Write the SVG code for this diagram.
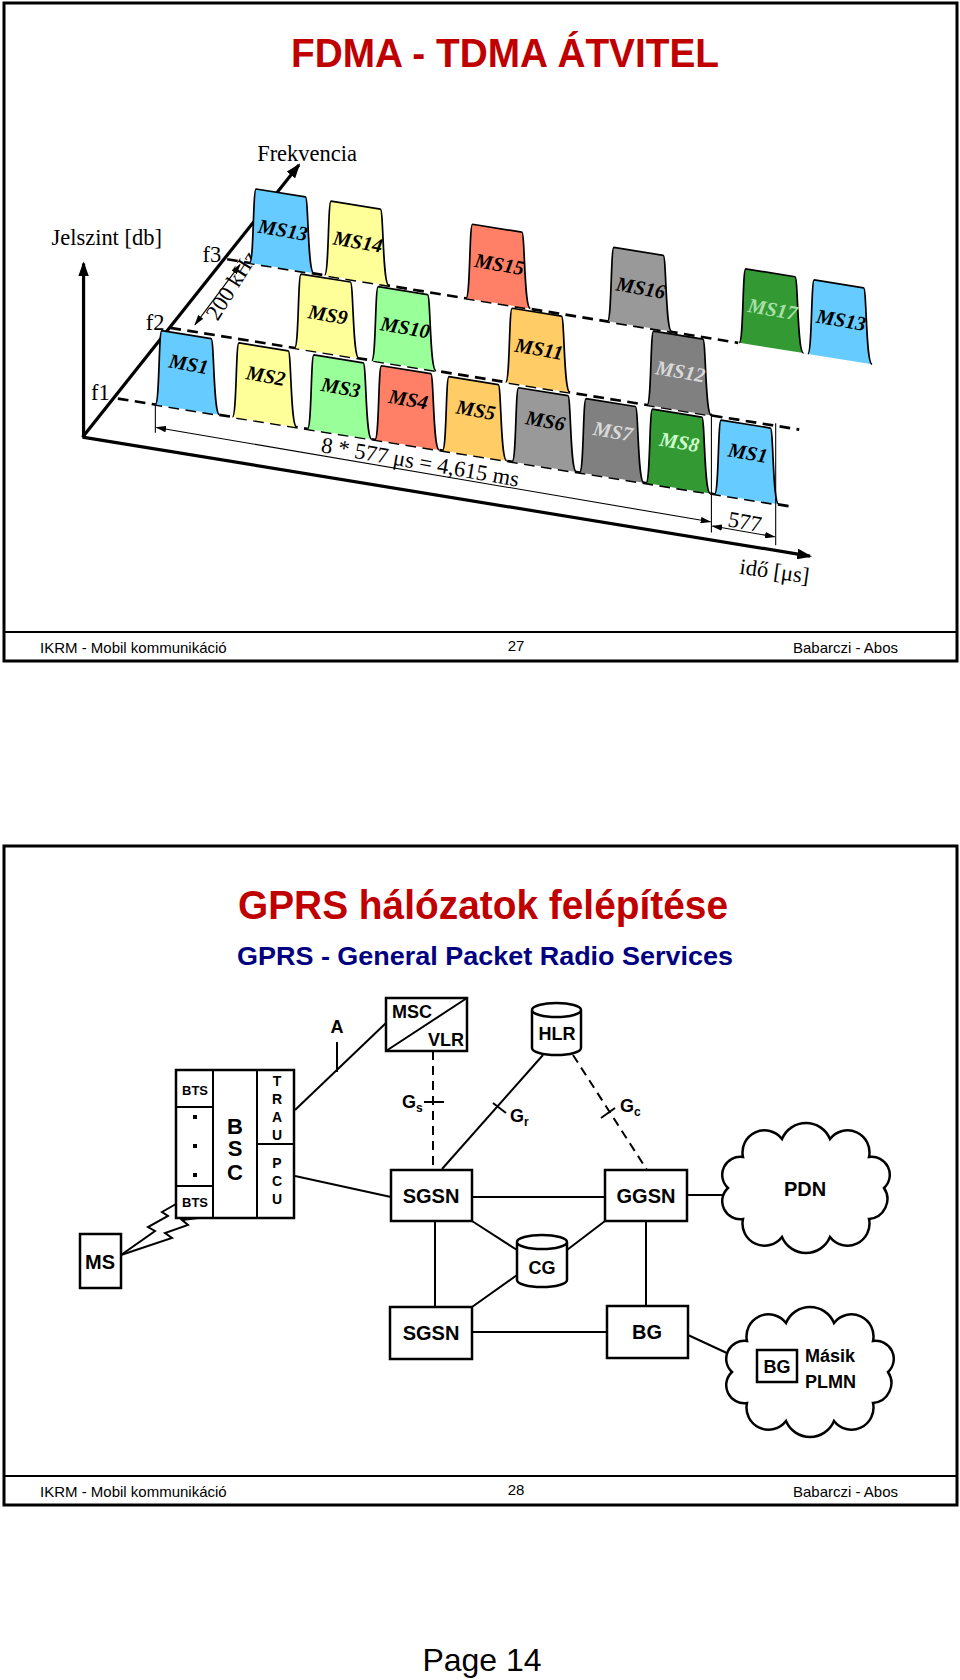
<svg xmlns="http://www.w3.org/2000/svg" xmlns:xlink="http://www.w3.org/1999/xlink" width="960" height="1680" viewBox="0 0 960 1680">
<style>
.frame{fill:none;stroke:#000;stroke-width:3}
.foot{font-family:"Liberation Sans",Arial,sans-serif;font-size:15px;fill:#000}
.ser{font-family:"Liberation Serif","Times New Roman",serif;font-size:21px;fill:#000}
.lab{font-family:"Liberation Serif","Times New Roman",serif;font-size:19px;font-weight:bold;font-style:italic;text-anchor:middle}
.pulse{stroke:#000;stroke-width:1.6}
.dash{stroke:#000;stroke-width:2.5;stroke-dasharray:10,6;fill:none}
.ax{stroke:#000;stroke-width:3;fill:none}
.thin{stroke:#000;stroke-width:1;fill:none}
.b{font-family:"Liberation Sans",Arial,sans-serif;font-weight:bold;fill:#000}
.box{fill:#fff;stroke:#000;stroke-width:2.5}
.ln{stroke:#000;stroke-width:2;fill:none}
.dl{stroke:#000;stroke-width:2;fill:none;stroke-dasharray:9,6}
</style>
<defs>
<path id="p" d="M0,0 c4,0 3,-69 6,-69 l46,7.4 c3,0 2,71.2 8,71.2"/>
<marker id="ah" markerWidth="14" markerHeight="10" refX="12" refY="5" orient="auto" markerUnits="userSpaceOnUse"><path d="M0,0 L14,5 L0,10 Z" fill="#000"/></marker>
<marker id="sa" markerWidth="10" markerHeight="6" refX="9" refY="3" orient="auto-start-reverse" markerUnits="userSpaceOnUse"><path d="M0,0 L10,3 L0,6 Z" fill="#000"/></marker>
<path id="cloud" d="M884,1188 A20,20 0 0 1 869,1219 A22,22 0 0 1 830,1237 A26,26 0 0 1 782,1237 A22,22 0 0 1 743,1219 A18,18 0 0 1 728,1188 A18,18 0 0 1 743,1157 A22,22 0 0 1 782,1139 A26,26 0 0 1 830,1139 A22,22 0 0 1 869,1157 A18,18 0 0 1 884,1188 Z"/>
</defs>
<rect width="960" height="1680" fill="#fff"/>

<g id="slide1">
<rect class="frame" x="4" y="3" width="953" height="658"/>
<line x1="4" y1="632" x2="957" y2="632" stroke="#000" stroke-width="2"/>
<text x="505" y="67" text-anchor="middle" font-family="Liberation Sans,Arial,sans-serif" font-weight="bold" font-size="40" fill="#c00000" textLength="428" lengthAdjust="spacingAndGlyphs">FDMA - TDMA ÁTVITEL</text>
<text class="foot" x="40" y="653">IKRM - Mobil kommunikáció</text>
<text class="foot" x="516" y="651" text-anchor="middle">27</text>
<text class="foot" x="898" y="653" text-anchor="end">Babarczi - Abos</text>

<g id="chart" transform="scale(1.0714)">
<line class="ax" x1="78" y1="408" x2="78" y2="246" marker-end="url(#ah)"/>
<line class="ax" x1="77" y1="408" x2="279" y2="154" marker-end="url(#ah)"/>
<line class="ax" x1="77" y1="408" x2="756" y2="519" marker-end="url(#ah)"/>
<text class="ser" x="240" y="150">Frekvencia</text>
<text class="ser" x="48" y="229">Jelszint [db]</text>
<text class="ser" x="85" y="373">f1</text>
<text class="ser" x="136" y="308">f2</text>
<text class="ser" x="189" y="245">f3</text>
<line class="dash" x1="212" y1="242" x2="689" y2="320"/>
<line class="dash" x1="159" y1="306" x2="746" y2="401"/>
<line class="dash" x1="110" y1="372" x2="740" y2="473"/>
<line class="thin" x1="224" y1="247" x2="182" y2="303" marker-start="url(#sa)" marker-end="url(#sa)"/>
<text class="ser" font-size="17" text-anchor="middle" transform="translate(222,270) rotate(-58)">200 kHz</text>

<g id="row3">
<use href="#p" x="233" y="245.4" class="pulse" fill="#66ccff"/>
<use href="#p" x="303" y="256.8" class="pulse" fill="#ffff99"/>
<use href="#p" x="435" y="278.3" class="pulse" fill="#ff8066"/>
<use href="#p" x="567" y="299.9" class="pulse" fill="#999999"/>
<use href="#p" x="690" y="319.9" class="pulse" fill="#339933"/>
<use href="#p" x="754" y="330.3" class="pulse" fill="#66ccff"/>
<text class="lab" transform="translate(263,221) rotate(10)">MS13</text>
<text class="lab" transform="translate(333,232) rotate(10)">MS14</text>
<text class="lab" transform="translate(465,253) rotate(10)">MS15</text>
<text class="lab" transform="translate(597,275) rotate(10)">MS16</text>
<text class="lab" fill="#a8e0a8" transform="translate(720,295) rotate(10)">MS17</text>
<text class="lab" transform="translate(784,305) rotate(10)">MS13</text>
</g>
<g id="row2">
<use href="#p" x="275" y="324.8" class="pulse" fill="#ffff99"/>
<use href="#p" x="347" y="336.5" class="pulse" fill="#99ff99"/>
<use href="#p" x="472" y="356.7" class="pulse" fill="#ffcc66"/>
<use href="#p" x="604" y="378.1" class="pulse" fill="#808080"/>
<text class="lab" transform="translate(305,300) rotate(10)">MS9</text>
<text class="lab" transform="translate(377,312) rotate(10)">MS10</text>
<text class="lab" transform="translate(502,332) rotate(10)">MS11</text>
<text class="lab" fill="#d9d9d9" transform="translate(634,353) rotate(10)">MS12</text>
</g>
<g id="row1">
<use href="#p" x="145" y="377.6" class="pulse" fill="#66ccff"/>
<use href="#p" x="217" y="389.1" class="pulse" fill="#ffff99"/>
<use href="#p" x="287" y="400.3" class="pulse" fill="#99ff99"/>
<use href="#p" x="350" y="410.4" class="pulse" fill="#ff8066"/>
<use href="#p" x="413" y="420.5" class="pulse" fill="#ffcc66"/>
<use href="#p" x="478" y="430.9" class="pulse" fill="#999999"/>
<use href="#p" x="541" y="441.0" class="pulse" fill="#808080"/>
<use href="#p" x="603" y="450.9" class="pulse" fill="#339933"/>
<use href="#p" x="667" y="461.1" class="pulse" fill="#66ccff"/>
<text class="lab" transform="translate(175,346) rotate(10)">MS1</text>
<text class="lab" transform="translate(247,357) rotate(10)">MS2</text>
<text class="lab" transform="translate(317,368) rotate(10)">MS3</text>
<text class="lab" transform="translate(380,379) rotate(10)">MS4</text>
<text class="lab" transform="translate(443,389) rotate(10)">MS5</text>
<text class="lab" transform="translate(508,399) rotate(10)">MS6</text>
<text class="lab" fill="#d9d9d9" transform="translate(571,409) rotate(10)">MS7</text>
<text class="lab" fill="#ccffcc" transform="translate(633,419) rotate(10)">MS8</text>
<text class="lab" transform="translate(697,429) rotate(10)">MS1</text>
</g>
<g id="dims">
<line class="thin" x1="145" y1="378" x2="145" y2="404"/>
<line class="thin" x1="664" y1="386" x2="664" y2="497"/>
<line class="thin" x1="724" y1="395" x2="724" y2="509"/>
<line class="thin" x1="146" y1="399" x2="663" y2="487" marker-start="url(#sa)" marker-end="url(#sa)"/>
<line class="thin" x1="665" y1="491" x2="723" y2="501" marker-start="url(#sa)" marker-end="url(#sa)"/>
<text class="ser" font-size="18" text-anchor="middle" transform="translate(391,438) rotate(10)">8 * 577 μs = 4,615 ms</text>
<text class="ser" font-size="17" text-anchor="middle" transform="translate(694,494) rotate(10)">577</text>
<text class="ser" font-size="22" text-anchor="middle" transform="translate(722,540) rotate(8)">idő [μs]</text>
</g>
</g>
</g>

<g id="slide2">
<rect class="frame" x="4" y="846" width="953" height="659"/>
<line x1="4" y1="1476" x2="957" y2="1476" stroke="#000" stroke-width="2"/>
<text x="483" y="919" text-anchor="middle" font-family="Liberation Sans,Arial,sans-serif" font-weight="bold" font-size="40" fill="#c00000" textLength="490" lengthAdjust="spacingAndGlyphs">GPRS hálózatok felépítése</text>
<text x="485" y="965" text-anchor="middle" font-family="Liberation Sans,Arial,sans-serif" font-weight="bold" font-size="26" fill="#000080" textLength="496" lengthAdjust="spacingAndGlyphs">GPRS - General Packet Radio Services</text>
<text class="foot" x="40" y="1497">IKRM - Mobil kommunikáció</text>
<text class="foot" x="516" y="1495" text-anchor="middle">28</text>
<text class="foot" x="898" y="1497" text-anchor="end">Babarczi - Abos</text>

<g id="connectors">
<line class="ln" x1="295" y1="1110" x2="386" y2="1023"/>
<line class="ln" x1="337" y1="1042" x2="337" y2="1072"/>
<line class="ln" x1="295" y1="1176" x2="391" y2="1197"/>
<line class="dl" x1="433" y1="1051" x2="433" y2="1170"/>
<line class="ln" x1="424" y1="1102" x2="444" y2="1102"/>
<line class="ln" x1="442" y1="1169" x2="543" y2="1055"/>
<line class="ln" x1="493" y1="1103" x2="506" y2="1113"/>
<line class="dl" x1="573" y1="1055" x2="647" y2="1170"/>
<line class="ln" x1="601" y1="1118" x2="615" y2="1108"/>
<line class="ln" x1="472" y1="1197" x2="605" y2="1197"/>
<line class="ln" x1="687" y1="1195" x2="730" y2="1195"/>
<line class="ln" x1="472" y1="1221" x2="517" y2="1250"/>
<line class="ln" x1="605" y1="1221" x2="567" y2="1250"/>
<line class="ln" x1="472" y1="1307" x2="517" y2="1275"/>
<line class="ln" x1="435" y1="1221" x2="435" y2="1307"/>
<line class="ln" x1="472" y1="1332" x2="607" y2="1332"/>
<line class="ln" x1="646" y1="1221" x2="646" y2="1306"/>
<line class="ln" x1="688" y1="1335" x2="757" y2="1367"/>
<polyline class="ln" points="121,1255 155,1231 148,1227 168,1216 162,1212 176,1204"/>
<polyline class="ln" points="121,1255 172,1238 165,1233 188,1225 182,1220 198,1218"/>
</g>

<g id="msc"><rect class="box" x="386" y="998" width="81" height="53"/><line class="ln" x1="386" y1="1051" x2="467" y2="998"/>
<text class="b" x="392" y="1018" font-size="18">MSC</text><text class="b" x="464" y="1046" font-size="18" text-anchor="end">VLR</text></g>
<text class="b" x="337" y="1033" font-size="18" text-anchor="middle">A</text>
<g id="hlr"><path class="box" d="M532,1010 v38 a24.5,7 0 0 0 49,0 v-38 a24.5,7 0 0 0 -49,0 a24.5,7 0 0 0 49,0"/><text class="b" x="557" y="1040" font-size="18" text-anchor="middle">HLR</text></g>
<g id="cg"><path class="box" d="M517,1242 v38 a25,7 0 0 0 50,0 v-38 a25,7 0 0 0 -50,0 a25,7 0 0 0 50,0"/><text class="b" x="542" y="1274" font-size="18" text-anchor="middle">CG</text></g>
<g id="bss">
<rect class="box" x="176" y="1070" width="118" height="148"/>
<line class="ln" x1="213" y1="1070" x2="213" y2="1218"/>
<line class="ln" x1="257" y1="1070" x2="257" y2="1218"/>
<line class="ln" x1="176" y1="1107" x2="213" y2="1107"/>
<line class="ln" x1="176" y1="1186" x2="213" y2="1186"/>
<line class="ln" x1="257" y1="1144" x2="294" y2="1144"/>
<text class="b" x="195" y="1095" font-size="13" text-anchor="middle">BTS</text>
<text class="b" x="195" y="1207" font-size="13" text-anchor="middle">BTS</text>
<rect x="193" y="1115" width="4" height="4" fill="#000"/><rect x="193" y="1144" width="4" height="4" fill="#000"/><rect x="193" y="1173" width="4" height="4" fill="#000"/>
<text class="b" font-size="22" text-anchor="middle"><tspan x="235" y="1134">B</tspan><tspan x="235" y="1156">S</tspan><tspan x="235" y="1180">C</tspan></text>
<text class="b" font-size="14" text-anchor="middle"><tspan x="277" y="1086">T</tspan><tspan x="277" y="1104">R</tspan><tspan x="277" y="1122">A</tspan><tspan x="277" y="1140">U</tspan><tspan x="277" y="1168">P</tspan><tspan x="277" y="1186">C</tspan><tspan x="277" y="1204">U</tspan></text>
</g>
<g id="ms"><rect class="box" x="80" y="1234" width="41" height="54"/><text class="b" x="100" y="1269" font-size="20" text-anchor="middle">MS</text></g>
<g id="sgsn1"><rect class="box" x="391" y="1170" width="81" height="51"/><text class="b" x="431" y="1203" font-size="20" text-anchor="middle">SGSN</text></g>
<g id="ggsn"><rect class="box" x="605" y="1170" width="82" height="51"/><text class="b" x="646" y="1203" font-size="20" text-anchor="middle">GGSN</text></g>
<g id="sgsn2"><rect class="box" x="390" y="1307" width="82" height="52"/><text class="b" x="431" y="1340" font-size="20" text-anchor="middle">SGSN</text></g>
<g id="bg"><rect class="box" x="607" y="1306" width="81" height="52"/><text class="b" x="647" y="1339" font-size="20" text-anchor="middle">BG</text></g>
<g id="pdn"><use href="#cloud" class="box" stroke-width="2"/><text class="b" x="805" y="1196" font-size="20" text-anchor="middle">PDN</text></g>
<g id="plmn"><use href="#cloud" class="box" stroke-width="2" transform="translate(4,184)"/>
<rect class="box" x="757" y="1350" width="40" height="32" stroke-width="2"/><text class="b" x="777" y="1373" font-size="18" text-anchor="middle">BG</text>
<text class="b" x="805" y="1362" font-size="18">Másik</text><text class="b" x="805" y="1388" font-size="18">PLMN</text></g>
<text class="b" x="402" y="1108" font-size="18">G<tspan font-size="12" dy="4">s</tspan></text>
<text class="b" x="510" y="1122" font-size="18">G<tspan font-size="12" dy="4">r</tspan></text>
<text class="b" x="620" y="1112" font-size="18">G<tspan font-size="12" dy="4">c</tspan></text>
</g>
<text x="482" y="1671" text-anchor="middle" font-family="Liberation Sans,Arial,sans-serif" font-size="32" fill="#000">Page 14</text>
</svg>
